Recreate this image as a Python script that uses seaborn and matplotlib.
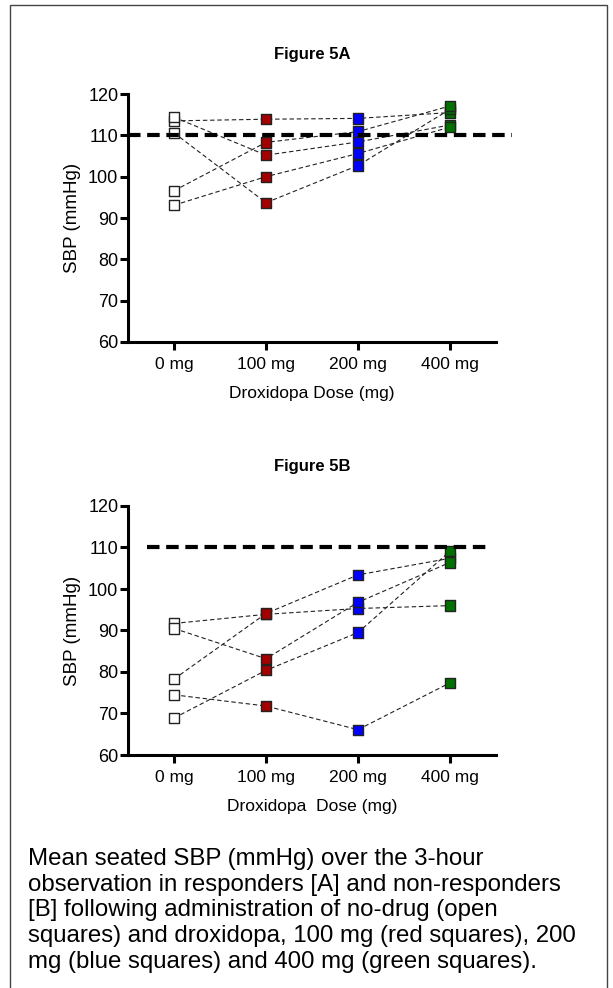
import numpy as np
import pandas as pd
import matplotlib.pyplot as plt
import seaborn as sns
from matplotlib.patches import Rectangle

# ── Data ─────────────────────────────────────────────
doses = ["0 mg", "100 mg", "200 mg", "400 mg"]
dose_colors = ["#ffffff", "#a30000", "#0000ff", "#007000"]

# responders (Figure 5A), one row per subject, one column per dose
sbp_a = [
    [113.5, 113.9, 114.1, 115.5],
    [110.6, 93.7, 102.7, 116.3],
    [96.6, 108.3, 110.9, 117.1],
    [114.4, 105.2, 108.4, 112.5],
    [93.1, 100.0, 105.6, 112.0],
]

# non-responders (Figure 5B)
sbp_b = [
    [91.7, 93.9, 95.3, 96.0],
    [78.3, 94.1, 103.4, 107.4],
    [90.5, 83.2, 96.8, 106.4],
    [68.9, 80.4, 89.5, 109.1],
    [74.5, 71.8, 66.1, 77.4],
]

threshold = 110
y_ticks = [60, 70, 80, 90, 100, 110, 120]


def to_long(values):
    rows = []
    for subj, row in enumerate(values):
        for i, v in enumerate(row):
            rows.append({"subject": subj, "dose": doses[i], "pos": i, "sbp": v})
    return pd.DataFrame(rows)


def draw_panel(ax, values, title, xlabel, ref_span):
    df = to_long(values)
    palette = dict(zip(doses, dose_colors))

    sns.lineplot(
        data=df, x="pos", y="sbp", units="subject", estimator=None,
        color="#222222", lw=0.8, ax=ax, zorder=2,
    )
    for line in ax.lines:
        line.set_linestyle((0, (4, 2.5)))

    sns.scatterplot(
        data=df, x="pos", y="sbp", hue="dose", palette=palette,
        marker="s", s=55, edgecolor="#222222", linewidth=1.0,
        legend=False, ax=ax, zorder=3,
    )

    ax.axhline(threshold, xmin=ref_span[0], xmax=ref_span[1], color="black",
               lw=3, ls=(0, (3, 1.6)), clip_on=False, zorder=4)

    ax.set_xlim(-0.5, 3.5)
    ax.set_ylim(60, 120)
    ax.set_xticks(range(len(doses)))
    ax.set_xticklabels(doses)
    ax.set_yticks(y_ticks)
    ax.set_xlabel(xlabel, fontsize=12.5, labelpad=10)
    ax.set_ylabel("SBP (mmHg)", fontsize=13.5, labelpad=5)
    ax.set_title(title, fontsize=12, fontweight="bold", pad=25)

    for side in ["top", "right"]:
        ax.spines[side].set_visible(False)
    for side in ["left", "bottom"]:
        ax.spines[side].set_linewidth(2.2)
        ax.spines[side].set_color("black")
    ax.tick_params(axis="y", length=6, width=2.2, labelsize=13, pad=1)
    ax.tick_params(axis="x", length=6, width=2.2, labelsize=12.5, pad=5)


sns.set_style("ticks")
plt.rcParams["font.family"] = ["Liberation Sans", "DejaVu Sans"]
plt.rcParams.update({
    "text.color": "black", "axes.labelcolor": "black",
    "xtick.color": "black", "ytick.color": "black",
})

fig = plt.figure(figsize=(6.13, 9.88), dpi=100)

ax_a = fig.add_axes([128 / 613, 1 - 342 / 988, 368 / 613, 248 / 988])
ax_b = fig.add_axes([128 / 613, 1 - 755 / 988, 368 / 613, 249 / 988])

draw_panel(ax_a, sbp_a, "Figure 5A", "Droxidopa Dose (mg)", (0.0, 1.043))
draw_panel(ax_b, sbp_b, "Figure 5B", "Droxidopa  Dose (mg)", (0.052, 0.978))

caption = ("Mean seated SBP (mmHg) over the 3-hour\n"
           "observation in responders [A] and non-responders\n"
           "[B] following administration of no-drug (open\n"
           "squares) and droxidopa, 100 mg (red squares), 200\n"
           "mg (blue squares) and 400 mg (green squares).")
fig.text(28 / 613, 1 - 848 / 988, caption, fontsize=17.3, va="top", ha="left",
         linespacing=1.22)

# outer frame
fig.patches.append(Rectangle((10 / 613, -0.01), 597 / 613, 1.01 - 5 / 988,
                             transform=fig.transFigure, fill=False,
                             edgecolor="#444444", lw=1.0))

fig.savefig("out.png", dpi=100)
